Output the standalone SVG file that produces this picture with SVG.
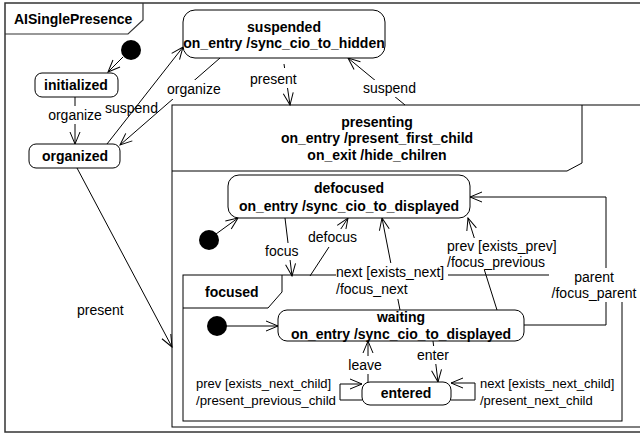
<svg xmlns="http://www.w3.org/2000/svg" width="640" height="433" viewBox="0 0 640 433">
<defs>
<marker id="arr" viewBox="-13 -7 14 14" refX="0" refY="0" markerWidth="14" markerHeight="14" markerUnits="userSpaceOnUse" orient="auto">
<path d="M-12,-5 L0,0 L-12,5" fill="none" stroke="#000" stroke-width="1"/>
</marker>
<style>
.frame{fill:#fff;stroke:#000;stroke-width:1}
.st{fill:#fff;stroke:#000;stroke-width:1}
.init{fill:#000}
.b{font-family:"Liberation Sans",Arial,sans-serif;font-weight:bold;font-size:14px;fill:#000}
.l{font-family:"Liberation Sans",Arial,sans-serif;font-size:14px;fill:#000}
.s{font-family:"Liberation Sans",Arial,sans-serif;font-size:13px;fill:#000}
.c{text-anchor:middle}
.ln{fill:none;stroke:#000;stroke-width:1}
.bg{fill:#fff}
</style>
</defs>
<rect width="640" height="433" fill="#fff"/>

<g id="frame-AISinglePresence">
<rect x="5" y="3" width="660" height="429" fill="#fff" stroke="#333" stroke-width="1.5"/>
<path d="M5,34 H128 L143,20 V3" fill="none" stroke="#333" stroke-width="1.2"/>
<text class="b" x="14" y="24" font-size="12.6">AISinglePresence</text>
</g>

<g id="presenting">
<rect class="frame" x="172" y="105" width="500" height="322"/>
<path class="ln" d="M172,171 H567 L582,163 V105"/>
<text class="b c" x="377" y="127">presenting</text>
<text class="b c" x="377" y="143">on_entry /present_first_child</text>
<text class="b c" x="377" y="160">on_exit /hide_chilren</text>
</g>

<g id="focused">
<rect class="frame" x="183" y="275" width="439" height="146"/>
<path class="ln" d="M183,308 H268 L282,292 V275"/>
<text class="b" x="205" y="297">focused</text>
</g>

<g id="connectors">
<line class="ln" x1="123" y1="57" x2="108" y2="72" marker-end="url(#arr)"/>
<line class="ln" x1="75" y1="97" x2="75" y2="144" marker-end="url(#arr)"/>
<line class="ln" x1="107" y1="144" x2="183" y2="47" marker-end="url(#arr)"/>
<line class="ln" x1="220" y1="58" x2="120" y2="145" marker-end="url(#arr)"/>
<line class="ln" x1="284" y1="64" x2="290" y2="105" marker-end="url(#arr)"/>
<line class="ln" x1="405" y1="105" x2="348" y2="58" marker-end="url(#arr)"/>
<line class="ln" x1="77" y1="168" x2="172" y2="347" marker-end="url(#arr)"/>
<line class="ln" x1="216" y1="234" x2="238" y2="218" marker-end="url(#arr)"/>
<line class="ln" x1="285" y1="218" x2="292" y2="276" marker-end="url(#arr)"/>
<line class="ln" x1="310" y1="276" x2="348" y2="218" marker-end="url(#arr)"/>
<line class="ln" x1="400" y1="310" x2="382" y2="218" marker-end="url(#arr)"/>
<line class="ln" x1="497" y1="310" x2="468" y2="218" marker-end="url(#arr)"/>
<polyline class="ln" points="524,325 606,325 606,197 470,197" marker-end="url(#arr)"/>
<line class="ln" x1="217" y1="326" x2="278" y2="326" marker-end="url(#arr)"/>
<line class="ln" x1="368" y1="382" x2="368" y2="341" marker-end="url(#arr)"/>
<line class="ln" x1="433" y1="341" x2="438" y2="382" marker-end="url(#arr)"/>
<path class="ln" d="M362,400 H340 V384 H362" marker-end="url(#arr)"/>
<path class="ln" d="M451,400 H475 V383 H451" marker-end="url(#arr)"/>

<rect class="bg" x="45" y="106" width="59" height="18"/>
<text class="l c" x="75" y="120">organize</text>
<text class="l" x="105" y="113">suspend</text>
<rect class="bg" x="165" y="80" width="57" height="19"/>
<text class="l" x="167" y="94">organize</text>
<rect class="bg" x="248" y="68" width="52" height="20"/>
<text class="l" x="250" y="84">present</text>
<rect class="bg" x="361" y="80" width="59" height="17"/>
<text class="l" x="363" y="93">suspend</text>
<text class="l" x="77" y="315">present</text>
<rect class="bg" x="263" y="243" width="37" height="17"/>
<text class="l" x="265" y="256">focus</text>
<rect class="bg" x="306" y="229" width="53" height="18"/>
<text class="l" x="308" y="242">defocus</text>
<rect class="bg" x="336" y="263" width="112" height="36"/>
<text class="l" x="336" y="277">next [exists_next]</text>
<text class="l" x="336" y="294">/focus_next</text>
<rect class="bg" x="446" y="238" width="114" height="32"/>
<text class="l" x="447" y="251">prev [exists_prev]</text>
<text class="l" x="447" y="267">/focus_previous</text>
<rect class="bg" x="549" y="268" width="91" height="34"/>
<text class="l c" x="594" y="282">parent</text>
<text class="l c" x="594" y="298">/focus_parent</text>
<rect class="bg" x="345" y="356" width="39" height="18"/>
<text class="l c" x="365" y="370">leave</text>
<rect class="bg" x="415" y="346" width="35" height="18"/>
<text class="l c" x="433" y="360">enter</text>
<text class="s" x="196" y="388">prev [exists_next_child]</text>
<text class="s" x="196" y="405" textLength="140" lengthAdjust="spacingAndGlyphs">/present_previous_child</text>
<text class="s" x="480" y="388">next [exists_next_child]</text>
<text class="s" x="480" y="405">/present_next_child</text>
</g>

<g id="init-top"><circle class="init" cx="131" cy="50" r="10"/></g>
<g id="initialized">
<rect class="st" x="35" y="73" width="83" height="24" rx="7"/>
<text class="b c" x="76" y="90">initialized</text>
</g>
<g id="organized">
<rect class="st" x="29" y="144" width="91" height="24" rx="7"/>
<text class="b c" x="75" y="161">organized</text>
</g>
<g id="suspended">
<rect class="st" x="183" y="10" width="202" height="48" rx="12"/>
<text class="b c" x="284" y="32" font-size="13">suspended</text>
<text class="b c" x="284" y="48" font-size="12.5">on_entry /sync_cio_to_hidden</text>
</g>
<g id="init-presenting"><circle class="init" cx="209" cy="240" r="10"/></g>
<g id="defocused">
<rect class="st" x="228" y="175" width="242" height="43" rx="11"/>
<text class="b c" x="349" y="193">defocused</text>
<text class="b c" x="349" y="211">on_entry /sync_cio_to_displayed</text>
</g>
<g id="init-focused"><circle class="init" cx="217" cy="326" r="10"/></g>
<g id="waiting">
<rect class="st" x="278" y="310" width="246" height="31" rx="9"/>
<text class="b c" x="401" y="322">waiting</text>
<text class="b c" x="401" y="339">on_entry /sync_cio_to_displayed</text>
</g>
<g id="entered">
<rect class="st" x="362" y="382" width="89" height="23" rx="8"/>
<text class="b c" x="406" y="398">entered</text>
</g>
</svg>
